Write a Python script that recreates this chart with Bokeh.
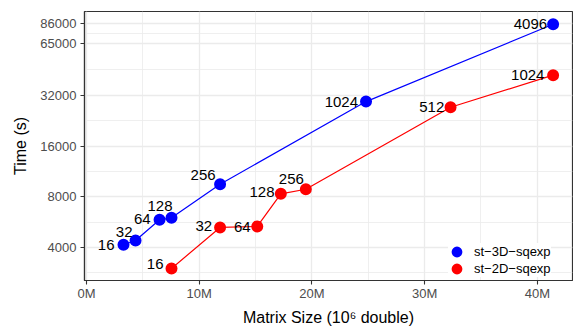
import math
from bokeh.plotting import figure
from bokeh.models import (Range1d, FixedTicker, NumeralTickFormatter, PrintfTickFormatter,
                          ColumnDataSource, Legend, LegendItem)
from bokeh.core.properties import value
from bokeh.embed import file_html
from bokeh.resources import INLINE

# ---- data (matrix size in 10^6 doubles, time in seconds) ----
blue_name = "st\u22123D\u2212sqexp"
blue_labels = ["16", "32", "64", "128", "256", "1024", "4096"]
blue_x = [3.28, 4.35, 6.48, 7.54, 11.85, 24.8, 41.4]
blue_y = [4150, 4400, 5840, 6000, 9500, 29400, 84700]

red_name = "st\u22122D\u2212sqexp"
red_labels = ["16", "32", "64", "128", "256", "512", "1024"]
red_x = [7.54, 11.85, 15.15, 17.24, 19.46, 32.3, 41.4]
red_y = [3000, 5260, 5330, 8330, 8870, 27200, 42200]

y_ticks = [4000, 8000, 16000, 32000, 65000, 86000]
x_ticks = [0, 10, 20, 30, 40]

# ---- label placement (screen px offsets, styling only) ----
blue_dx = [-9, -3, -9, 1, -4.5, -8, -6]
blue_dy = [0, -8.5, -1, -12, -9, 0, 0]
red_dx = [-8, -8, -6.7, -6.3, -2, -6.3, -8.7]
red_dy = [-4.5, -1, 1, -1.5, -10.4, 0, 0]

FONT = "Liberation Sans"
BLUE = "#0000FF"
RED = "#FF0000"

p = figure(width=573, height=328, output_backend="svg", toolbar_location=None,
           x_range=Range1d(-0.18, 43.12), y_range=Range1d(2546, 100760),
           y_axis_type="log")
p.min_border_left = 84
p.min_border_top = 11
p.min_border_right = 1
p.min_border_bottom = 48
p.background_fill_color = "white"
p.border_fill_color = "white"
p.outline_line_color = "#333333"
p.outline_line_width = 1.2

# tickers
y_minor = [y_ticks[0] / math.sqrt(2)] + [math.sqrt(a * b) for a, b in zip(y_ticks[:-1], y_ticks[1:])]
x_minor = [(a + b) / 2 for a, b in zip(x_ticks[:-1], x_ticks[1:])]
p.yaxis.ticker = FixedTicker(ticks=y_ticks, minor_ticks=y_minor)
p.xaxis.ticker = FixedTicker(ticks=x_ticks, minor_ticks=x_minor)
p.yaxis.formatter = NumeralTickFormatter(format="0")
p.xaxis.formatter = PrintfTickFormatter(format="%dM")

for ax in (p.xaxis, p.yaxis):
    ax.axis_line_color = "#333333"
    ax.axis_line_width = 1.2
    ax.major_tick_line_color = "#333333"
    ax.major_tick_line_width = 1.1
    ax.major_tick_out = 4
    ax.major_tick_in = 0
    ax.minor_tick_line_color = None
    ax.major_label_text_font = FONT
    ax.major_label_text_font_size = "13px"
    ax.major_label_text_color = "#4D4D4D"
    ax.axis_label_text_font = FONT
    ax.axis_label_text_font_size = "16px"
    ax.axis_label_text_font_style = "normal"
    ax.axis_label_text_color = "black"
p.xaxis.major_label_standoff = 1
p.yaxis.major_label_standoff = 4
p.xaxis.axis_label_standoff = 5
p.yaxis.axis_label_standoff = 8

p.xaxis.axis_label = "Matrix Size (10\u2076 double)"
p.yaxis.axis_label = "Time (s)"

for g in (p.xgrid, p.ygrid):
    g.grid_line_color = "#EBEBEB"
    g.grid_line_width = 1.3
    g.minor_grid_line_color = "#EBEBEB"
    g.minor_grid_line_width = 0.8

blue_src = ColumnDataSource(dict(x=blue_x, y=blue_y, t=blue_labels, dx=blue_dx, dy=blue_dy))
red_src = ColumnDataSource(dict(x=red_x, y=red_y, t=red_labels, dx=red_dx, dy=red_dy))

p.line("x", "y", source=blue_src, line_color=BLUE, line_width=1.2)
p.line("x", "y", source=red_src, line_color=RED, line_width=1.2)
rb = p.scatter("x", "y", source=blue_src, size=8, line_width=4, fill_color=BLUE, line_color=BLUE)
rr = p.scatter("x", "y", source=red_src, size=8, line_width=4, fill_color=RED, line_color=RED)

for src in (blue_src, red_src):
    p.text("x", "y", text="t", source=src, x_offset="dx", y_offset="dy",
           text_align="right", text_baseline="middle",
           text_font=value(FONT), text_font_size="15px", text_color="black")

legend = Legend(items=[LegendItem(label=blue_name, renderers=[rb]),
                       LegendItem(label=red_name, renderers=[rr])],
                location=(364, 3), orientation="vertical",
                glyph_width=17, glyph_height=17, label_height=17,
                spacing=0, padding=3, margin=0, label_standoff=9,
                label_text_font=FONT, label_text_font_size="13px",
                label_text_color="black", background_fill_color="white",
                background_fill_alpha=1.0, border_line_color=None)
p.add_layout(legend)

open("out.html", "w").write(file_html(p, INLINE))
